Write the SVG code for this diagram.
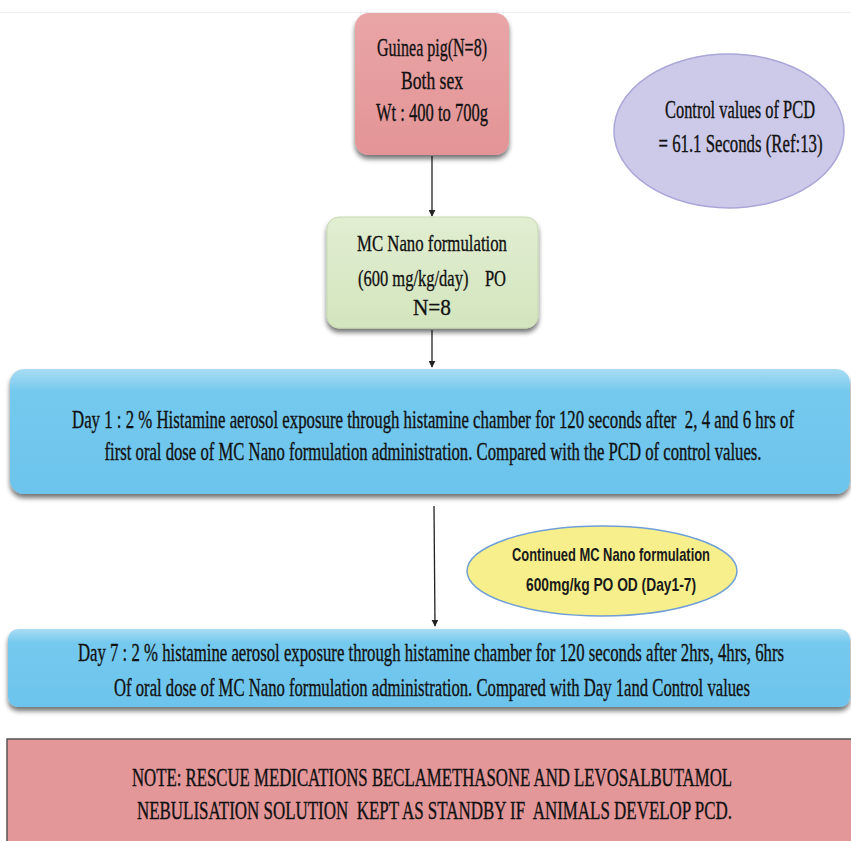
<svg xmlns="http://www.w3.org/2000/svg" width="851" height="841" viewBox="0 0 851 841">
<defs>
<filter id="sh" x="-10%" y="-10%" width="120%" height="130%">
<feGaussianBlur in="SourceAlpha" stdDeviation="2.5"/>
<feOffset dx="0" dy="4" result="b"/>
<feComponentTransfer><feFuncA type="linear" slope="0.55"/></feComponentTransfer>
<feMerge><feMergeNode/><feMergeNode in="SourceGraphic"/></feMerge>
</filter>
<linearGradient id="gPink" x1="0" y1="0" x2="0" y2="1"><stop offset="0" stop-color="#e9a5a6"/><stop offset="1" stop-color="#e39496"/></linearGradient>
<linearGradient id="gGreen" x1="0" y1="0" x2="0" y2="1"><stop offset="0" stop-color="#e1eed2"/><stop offset="1" stop-color="#d3e5bd"/></linearGradient>
<linearGradient id="gBlue" x1="0" y1="0" x2="0" y2="1"><stop offset="0" stop-color="#a9dcf3"/><stop offset="0.18" stop-color="#74c9ee"/><stop offset="1" stop-color="#6cc4ec"/></linearGradient>
<marker id="ah" viewBox="0 0 10 10" refX="9" refY="5" markerWidth="7" markerHeight="7" orient="auto" markerUnits="userSpaceOnUse"><path d="M0,0 L10,5 L0,10 z" fill="#222"/></marker>
<style>
.t{font-family:"Liberation Serif","Times New Roman",serif;fill:#111;stroke:#111;stroke-width:0.35;text-anchor:middle;white-space:pre}
.s{font-family:"Liberation Sans",Arial,sans-serif;font-weight:bold;fill:#1a1a1a;text-anchor:middle}
.c{stroke:#222;stroke-width:1.3;fill:none;marker-end:url(#ah)}
</style>
</defs>
<rect width="851" height="841" fill="#ffffff"/>
<line x1="0" y1="12.5" x2="851" y2="12.5" stroke="#eeeeee" stroke-width="1"/>

<g id="connectors">
<line class="c" x1="432" y1="156" x2="432" y2="216"/>
<line class="c" x1="432" y1="330" x2="432" y2="367"/>
<line class="c" x1="434" y1="506" x2="435" y2="626"/>
</g>

<g id="guinea">
<rect x="355" y="13" width="154" height="142" rx="14" fill="url(#gPink)" filter="url(#sh)"/>
<text class="t" x="432" y="56" font-size="25" textLength="110" lengthAdjust="spacingAndGlyphs">Guinea pig(N=8)</text>
<text class="t" x="432" y="89" font-size="25" textLength="62" lengthAdjust="spacingAndGlyphs">Both sex</text>
<text class="t" x="432" y="121" font-size="25" textLength="112" lengthAdjust="spacingAndGlyphs">Wt : 400 to 700g</text>
</g>

<g id="control">
<ellipse cx="729" cy="131" rx="115" ry="77" fill="#ccc9e9" stroke="#aaa6d8" stroke-width="1.5"/>
<text class="t" x="740" y="118" font-size="25" textLength="150" lengthAdjust="spacingAndGlyphs">Control values of PCD</text>
<text class="t" x="740.5" y="152" font-size="25" textLength="164" lengthAdjust="spacingAndGlyphs">= 61.1 Seconds (Ref:13)</text>
</g>

<g id="mcnano">
<rect x="327" y="217" width="211" height="111" rx="12" fill="url(#gGreen)" stroke="#c7d9b0" stroke-width="1" filter="url(#sh)"/>
<text class="t" x="432" y="251" font-size="24" textLength="150" lengthAdjust="spacingAndGlyphs">MC Nano formulation</text>
<text class="t" x="432" y="286" font-size="24" textLength="148" lengthAdjust="spacingAndGlyphs">(600 mg/kg/day)    PO</text>
<text class="t" x="432" y="315" font-size="24" textLength="38" lengthAdjust="spacingAndGlyphs">N=8</text>
</g>

<g id="day1">
<rect x="10" y="369" width="840" height="125" rx="14" fill="url(#gBlue)" filter="url(#sh)"/>
<text class="t" x="433" y="428" font-size="25" textLength="722" lengthAdjust="spacingAndGlyphs">Day 1 : 2 % Histamine aerosol exposure through histamine chamber for 120 seconds after  2, 4 and 6 hrs of</text>
<text class="t" x="433" y="460" font-size="25" textLength="657" lengthAdjust="spacingAndGlyphs">first oral dose of MC Nano formulation administration. Compared with the PCD of control values.</text>
</g>

<g id="continued">
<ellipse cx="602" cy="571" rx="135" ry="45" fill="#f6ef8b" stroke="#6f9fd6" stroke-width="1.5"/>
<text class="s" x="611" y="561" font-size="19" textLength="198" lengthAdjust="spacingAndGlyphs">Continued MC Nano formulation</text>
<text class="s" x="611" y="591" font-size="19" textLength="170" lengthAdjust="spacingAndGlyphs">600mg/kg PO OD (Day1-7)</text>
</g>

<g id="day7">
<rect x="8" y="629" width="842" height="78" rx="10" fill="url(#gBlue)" filter="url(#sh)"/>
<text class="t" x="431" y="661" font-size="25" textLength="706" lengthAdjust="spacingAndGlyphs">Day 7 : 2 % histamine aerosol exposure through histamine chamber for 120 seconds after 2hrs, 4hrs, 6hrs</text>
<text class="t" x="432" y="696" font-size="25" textLength="636" lengthAdjust="spacingAndGlyphs">Of oral dose of MC Nano formulation administration. Compared with Day 1and Control values</text>
</g>

<g id="note">
<rect x="7" y="739" width="850" height="110" fill="#e39799" stroke="#555555" stroke-width="1.5"/>
<text class="t" x="432" y="786" font-size="25" textLength="600" lengthAdjust="spacingAndGlyphs">NOTE: RESCUE MEDICATIONS BECLAMETHASONE AND LEVOSALBUTAMOL</text>
<text class="t" x="434.5" y="819" font-size="25" textLength="595" lengthAdjust="spacingAndGlyphs">NEBULISATION SOLUTION  KEPT AS STANDBY IF  ANIMALS DEVELOP PCD.</text>
</g>
</svg>
